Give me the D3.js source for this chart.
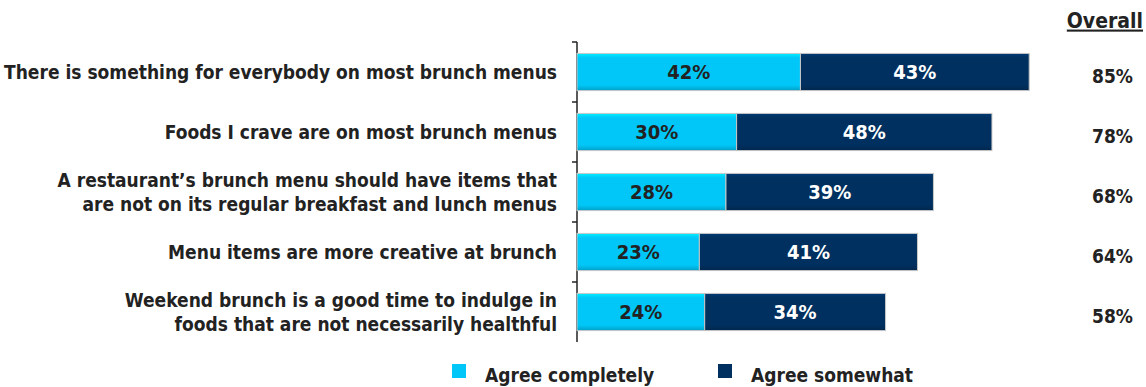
<!DOCTYPE html>
<html>
<head>
<meta charset="utf-8">
<script src="https://cdn.jsdelivr.net/npm/d3@7"></script>
<style>
  body { margin: 0; background: #fff; }
  svg text { font-family: "Liberation Sans Narrow", "DejaVu Sans Condensed", "Roboto Condensed", sans-serif; font-weight: bold; font-stretch: condensed; }
</style>
</head>
<body>
<svg id="chart" width="1146" height="387"></svg>
<script>
// Survey statements (each may wrap onto two lines)
const categories = [
  ["There is something for everybody on most brunch menus"],
  ["Foods I crave are on most brunch menus"],
  ["A restaurant’s brunch menu should have items that", "are not on its regular breakfast and lunch menus"],
  ["Menu items are more creative at brunch"],
  ["Weekend brunch is a good time to indulge in", "foods that are not necessarily healthful"]
];
const agreeCompletely = [42, 30, 28, 23, 24];
const agreeSomewhat   = [43, 48, 39, 41, 34];
const overall         = [85, 78, 68, 64, 58];
const seriesNames = ["Agree completely", "Agree somewhat"];
const seriesColors = ["#00C7F8", "#00305F"];

const svg = d3.select("#chart");
const plotLeft = 577, plotTop = 42, bandH = 60;

const x = d3.scaleLinear().domain([0, 100]).range([plotLeft, plotLeft + 532]);
const y = d3.scaleBand().domain(d3.range(categories.length))
  .range([plotTop, plotTop + bandH * categories.length]).paddingInner(0.38).paddingOuter(0.19);

// Gradients giving the bars a bevelled look
const defs = svg.append("defs");
seriesColors.forEach((c, i) => {
  const g = defs.append("linearGradient").attr("id", "g" + i)
    .attr("x1", 0).attr("y1", 0).attr("x2", 0).attr("y2", 1);
  const base = d3.color(c);
  g.append("stop").attr("offset", "0%").attr("stop-color", base.brighter(0.5));
  g.append("stop").attr("offset", "12%").attr("stop-color", c);
  g.append("stop").attr("offset", "85%").attr("stop-color", c);
  g.append("stop").attr("offset", "100%").attr("stop-color", base.darker(0.6));
});

// Axis line with ticks between bands
const axisG = svg.append("g");
axisG.append("line").attr("x1", plotLeft).attr("x2", plotLeft)
  .attr("y1", plotTop).attr("y2", plotTop + bandH * categories.length)
  .attr("stroke", "#222").attr("stroke-width", 1.5);
d3.range(categories.length).forEach(i => {
  axisG.append("line").attr("x1", plotLeft - 5).attr("x2", plotLeft)
    .attr("y1", plotTop + i * bandH).attr("y2", plotTop + i * bandH)
    .attr("stroke", "#222").attr("stroke-width", 1.5);
});

// Stacked bars
const rows = categories.map((c, i) => ({ i, a: agreeCompletely[i], b: agreeSomewhat[i], o: overall[i] }));
const g = svg.append("g");
rows.forEach(r => {
  const segs = [
    { x0: 0, x1: r.a, v: r.a, s: 0 },
    { x0: r.a, x1: r.a + r.b, v: r.b, s: 1 }
  ];
  segs.forEach(s => {
    g.append("rect")
      .attr("x", x(s.x0)).attr("y", y(r.i))
      .attr("width", x(s.x1) - x(s.x0)).attr("height", y.bandwidth())
      .attr("fill", `url(#g${s.s})`)
      .attr("stroke", "#c8c8c8").attr("stroke-width", 1);
    g.append("text")
      .attr("x", (x(s.x0) + x(s.x1)) / 2).attr("y", y(r.i) + y.bandwidth() / 2)
      .attr("dy", "0.36em").attr("text-anchor", "middle")
      .attr("font-size", 20).attr("fill", s.s === 0 ? "#222" : "#fff")
      .text(s.v + "%");
  });
  // Overall total
  svg.append("text")
    .attr("x", 1133).attr("y", y(r.i) + y.bandwidth() / 2 + 4)
    .attr("dy", "0.36em").attr("text-anchor", "end")
    .attr("font-size", 19).attr("fill", "#222")
    .text(r.o + "%");
  // Category label
  const t = svg.append("text")
    .attr("x", 557).attr("text-anchor", "end")
    .attr("font-size", 19).attr("fill", "#222");
  const lines = categories[r.i];
  const cy = y(r.i) + y.bandwidth() / 2;
  lines.forEach((ln, k) => {
    t.append("tspan").attr("x", 557)
      .attr("y", cy + (k - (lines.length - 1) / 2) * 24)
      .attr("dy", "0.36em").text(ln);
  });
});

// Column header
svg.append("text").attr("x", 1143).attr("y", 20).attr("dy", "0.36em")
  .attr("text-anchor", "end").attr("font-size", 21).attr("fill", "#222")
  .attr("text-decoration", "underline").text("Overall");

// Legend
const legendX = [452, 718];
seriesNames.forEach((n, i) => {
  svg.append("rect").attr("x", legendX[i]).attr("y", 364)
    .attr("width", 14).attr("height", 14).attr("fill", seriesColors[i]);
  svg.append("text").attr("x", legendX[i] + 33).attr("y", 375)
    .attr("dy", "0.36em").attr("font-size", 19).attr("fill", "#222").text(n);
});
</script>
</body>
</html>
